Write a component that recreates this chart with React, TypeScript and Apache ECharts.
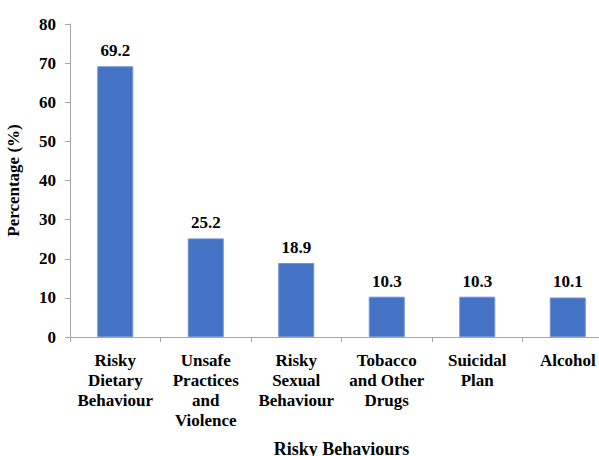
import React, { useEffect, useRef } from "react";
import * as echarts from "echarts";

const categories = [
  "Risky\nDietary\nBehaviour",
  "Unsafe\nPractices\nand\nViolence",
  "Risky\nSexual\nBehaviour",
  "Tobacco\nand Other\nDrugs",
  "Suicidal\nPlan",
  "Alcohol",
];
const values = [69.2, 25.2, 18.9, 10.3, 10.3, 10.1];
const yTicks = { min: 0, max: 80, interval: 10 };

const FONT = "Times New Roman, Liberation Serif, serif";

export default function App() {
  const ref = useRef<HTMLDivElement>(null);
  useEffect(() => {
    if (!ref.current) return;
    const chart = echarts.init(ref.current, undefined, { renderer: "svg" });
    chart.setOption({
      animation: false,
      textStyle: { fontFamily: FONT },
      grid: { left: 70, top: 24, bottom: 119, right: -14, containLabel: false, outerBoundsMode: "none" },
      xAxis: {
        type: "category",
        data: categories,
        name: "Risky Behaviours",
        nameLocation: "middle",
        nameGap: 103,
        nameTextStyle: { fontFamily: FONT, fontWeight: "bold", fontSize: 18, color: "#000", verticalAlign: "top" },
        axisLine: { lineStyle: { color: "#a6a6a6", width: 1 } },
        axisTick: { show: true, length: 5, alignWithLabel: false, lineStyle: { color: "#a6a6a6" } },
        axisLabel: {
          interval: 0,
          margin: 13,
          fontFamily: FONT,
          fontWeight: "bold",
          fontSize: 17,
          lineHeight: 20,
          color: "#000",
          align: "center",
        },
      },
      yAxis: {
        type: "value",
        min: yTicks.min,
        max: yTicks.max,
        interval: yTicks.interval,
        name: "Percentage (%)",
        nameLocation: "middle",
        nameGap: 48,
        nameRotate: 90,
        nameTextStyle: { fontFamily: FONT, fontWeight: "bold", fontSize: 17, color: "#000" },
        axisLine: { show: true, lineStyle: { color: "#a6a6a6", width: 1 } },
        axisTick: { show: true, length: 5, lineStyle: { color: "#a6a6a6" } },
        splitLine: { show: false },
        axisLabel: { margin: 14, fontFamily: FONT, fontWeight: "bold", fontSize: 17, color: "#000" },
      },
      series: [
        {
          type: "bar",
          data: values,
          barWidth: 36,
          itemStyle: { color: "#4472C4", borderColor: "#6f93d6", borderWidth: 1 },
          label: {
            show: true,
            position: "top",
            distance: 7,
            fontFamily: FONT,
            fontWeight: "bold",
            fontSize: 17,
            color: "#000",
            formatter: (p: any) => p.value.toFixed(1),
          },
        },
      ],
    });
    return () => chart.dispose();
  }, []);
  return (
    <div
      ref={ref}
      style={{ position: "fixed", left: 0, top: 0, width: 599, height: 456, background: "#fff" }}
    />
  );
}
